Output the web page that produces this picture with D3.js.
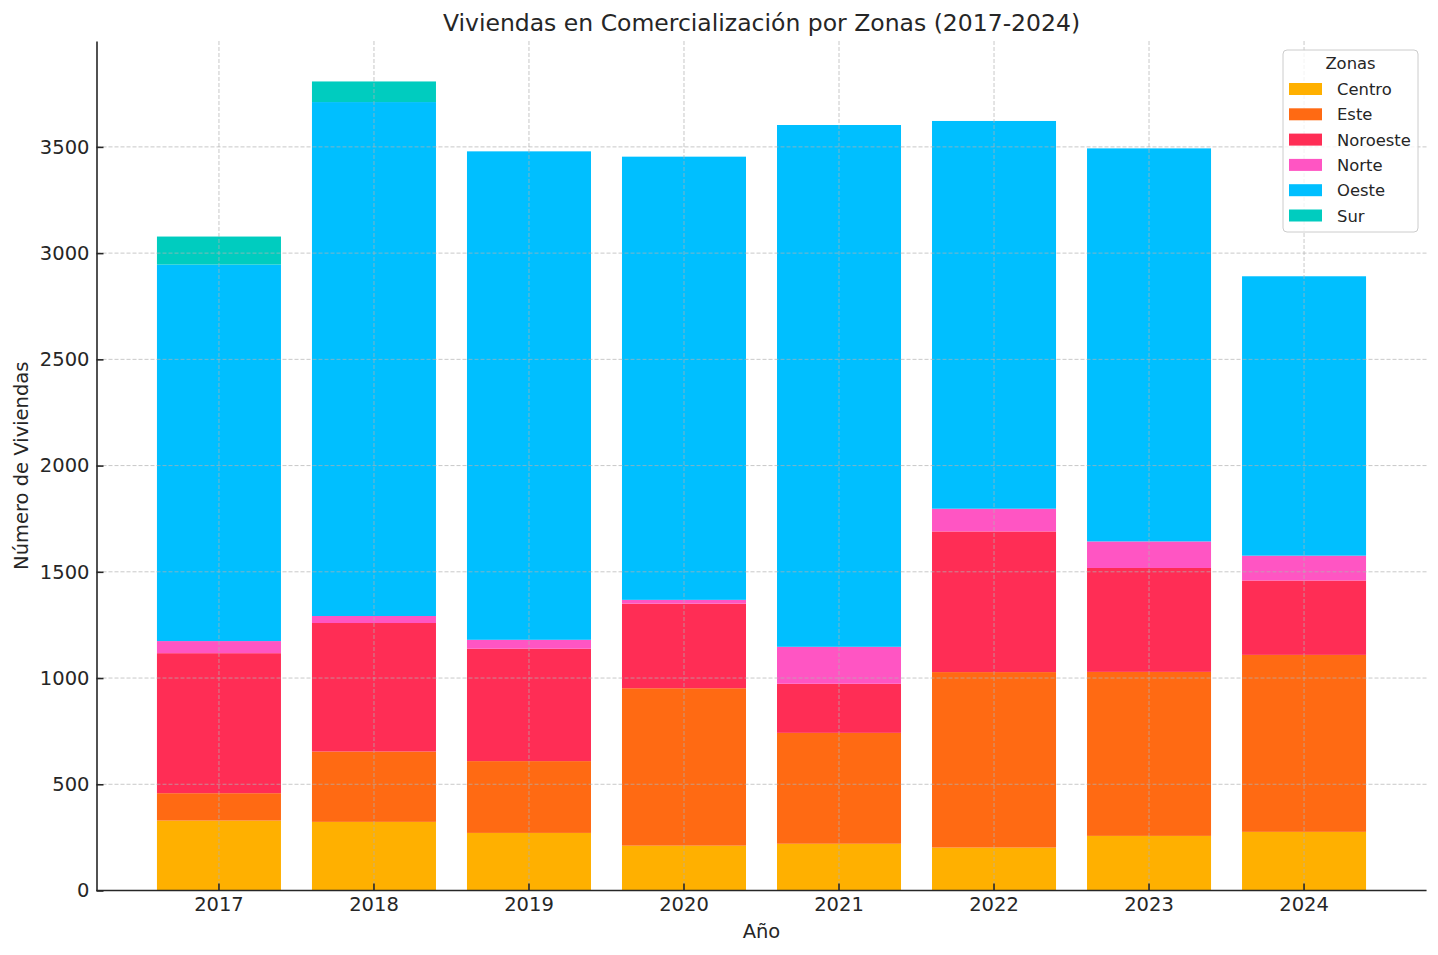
<!DOCTYPE html>
<html>
<head>
<meta charset="utf-8">
<script src="https://cdn.jsdelivr.net/npm/d3@7"></script>
<style>
  html, body { margin: 0; padding: 0; background: #ffffff; }
  svg { display: block; font-family: "DejaVu Sans", sans-serif; }
</style>
</head>
<body>
<svg id="chart" width="1438" height="955"></svg>
<script>
// ---- data ----
const years = ["2017", "2018", "2019", "2020", "2021", "2022", "2023", "2024"];
const zones = ["Centro", "Este", "Noroeste", "Norte", "Oeste", "Sur"];
const centro   = [329, 323, 271, 211, 220, 202, 257, 276];
const este     = [129, 331, 338, 741, 522, 826, 772, 833];
const noroeste = [659, 605, 529, 398, 231, 662, 489, 350];
const norte    = [57, 33, 42, 18, 174, 107, 125, 117];
const oeste    = [1772, 2419, 2299, 2086, 2456, 1825, 1850, 1315];
const sur      = [132, 97, 0, 0, 0, 0, 0, 0];
const yTicks = [0, 500, 1000, 1500, 2000, 2500, 3000, 3500];
const colors = ["#FFB000", "#FF6A13", "#FF2D55", "#FF55C3", "#00BFFF", "#00CCBF"];

const seriesValues = [centro, este, noroeste, norte, oeste, sur];
const rows = years.map((yr, i) => {
  const r = { year: yr };
  zones.forEach((z, k) => { r[z] = seriesValues[k][i]; });
  return r;
});

// ---- layout ----
const svg = d3.select("#chart");
const plotL = 96.5, plotR = 1426.5, plotT = 41, plotB = 890.5;
const textColor = "#262626";

const totals = rows.map(r => d3.sum(zones, z => r[z]));
const x = d3.scaleBand().domain(years).range([plotL, plotR]).paddingInner(0.2).paddingOuter(0.39);
const y = d3.scaleLinear().domain([0, d3.max(totals) * 1.05]).range([plotB, plotT]);
const color = d3.scaleOrdinal().domain(zones).range(colors);

const stacked = d3.stack().keys(zones)(rows);

// bars
svg.append("g").selectAll("g").data(stacked).join("g")
  .attr("fill", d => color(d.key))
  .selectAll("rect").data(d => d).join("rect")
  .attr("x", d => x(d.data.year))
  .attr("width", x.bandwidth())
  .attr("y", d => y(d[1]))
  .attr("height", d => Math.max(0, y(d[0]) - y(d[1])));

// grid (drawn over bars)
const grid = svg.append("g").attr("stroke", "#b0b0b0").attr("stroke-opacity", 0.7)
  .attr("stroke-width", 1).attr("stroke-dasharray", "4,2").attr("fill", "none");
grid.selectAll("line.h").data(yTicks).join("line").attr("class", "h")
  .attr("x1", plotL).attr("x2", plotR)
  .attr("y1", d => y(d)).attr("y2", d => y(d));
grid.selectAll("line.v").data(years).join("line").attr("class", "v")
  .attr("x1", d => x(d) + x.bandwidth() / 2).attr("x2", d => x(d) + x.bandwidth() / 2)
  .attr("y1", plotT).attr("y2", plotB);

// axes
const fs = 19.5;
const yAxis = d3.axisLeft(y).tickValues(yTicks).tickSizeInner(-7).tickSizeOuter(0).tickPadding(7).tickFormat(d3.format("d"));
const gy = svg.append("g").attr("transform", `translate(${plotL},0)`).call(yAxis);
gy.select(".domain").attr("stroke", textColor).attr("stroke-width", 1.6);
gy.selectAll(".tick line").attr("stroke", textColor).attr("stroke-width", 1.6);
gy.selectAll(".tick text").attr("font-size", fs).attr("fill", textColor).attr("font-family", "DejaVu Sans");

const xAxis = d3.axisBottom(x).tickSizeInner(-7).tickSizeOuter(0).tickPadding(7);
const gx = svg.append("g").attr("transform", `translate(0,${plotB})`).call(xAxis);
gx.select(".domain").attr("stroke", textColor).attr("stroke-width", 1.6)
  .attr("d", `M${plotL},0H${plotR}`);
gx.selectAll(".tick line").attr("stroke", textColor).attr("stroke-width", 1.6);
gx.selectAll(".tick text").attr("font-size", fs).attr("fill", textColor).attr("font-family", "DejaVu Sans");

// title & labels
svg.append("text").attr("x", (plotL + plotR) / 2).attr("y", 31)
  .attr("text-anchor", "middle").attr("font-size", 23.5).attr("fill", textColor)
  .text("Viviendas en Comercialización por Zonas (2017-2024)");
svg.append("text").attr("x", (plotL + plotR) / 2).attr("y", 938)
  .attr("text-anchor", "middle").attr("font-size", fs).attr("fill", textColor)
  .text("Año");
svg.append("text").attr("transform", `translate(28,${(plotT + plotB) / 2}) rotate(-90)`)
  .attr("text-anchor", "middle").attr("font-size", fs).attr("fill", textColor)
  .text("Número de Viviendas");

// legend
const lg = svg.append("g");
lg.append("rect").attr("x", 1283).attr("y", 50).attr("width", 135).attr("height", 182)
  .attr("rx", 4).attr("fill", "#ffffff").attr("fill-opacity", 0.8)
  .attr("stroke", "#cccccc").attr("stroke-width", 1);
lg.append("text").attr("x", 1350.5).attr("y", 69).attr("text-anchor", "middle")
  .attr("font-size", 16.4).attr("fill", textColor).text("Zonas");
const items = lg.selectAll("g.item").data(zones).join("g").attr("class", "item")
  .attr("transform", (d, i) => `translate(1289,${89 + i * 25.3})`);
items.append("rect").attr("x", 0).attr("y", -6).attr("width", 33).attr("height", 12)
  .attr("fill", d => color(d));
items.append("text").attr("x", 48).attr("y", 6).attr("font-size", 16.4)
  .attr("fill", textColor).text(d => d);
</script>
</body>
</html>
